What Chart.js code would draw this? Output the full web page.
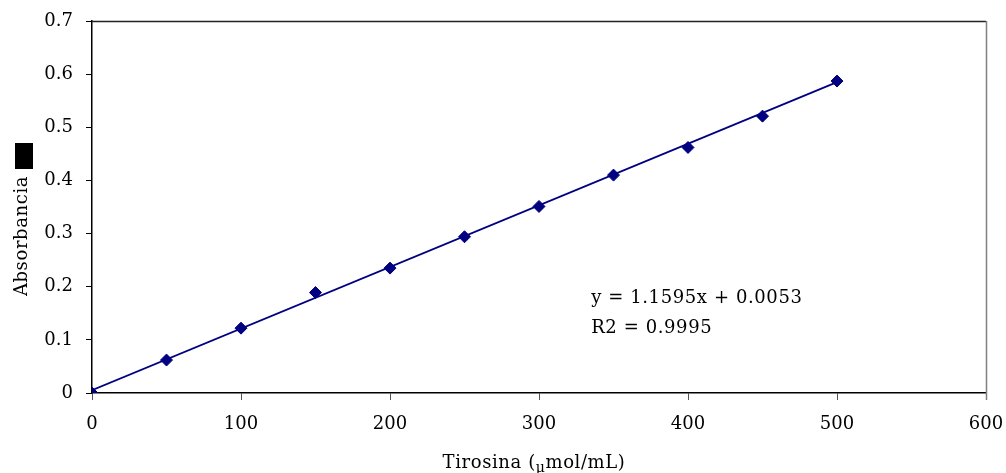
<!DOCTYPE html>
<html>
<head>
<meta charset="utf-8">
<script src="https://cdn.jsdelivr.net/npm/chart.js@4.4.0/dist/chart.umd.min.js"></script>
<style>
  html, body { margin: 0; padding: 0; background: #fff; }
  #wrap { width: 1006px; height: 473px; }
</style>
</head>
<body>
<div id="wrap"><canvas id="chCurva"></canvas></div>
<script>
/* Curva de calibracion de tirosina: absorbancia vs concentracion */
var TIROSINA = [0, 50, 100, 150, 200, 250, 300, 350, 400, 450, 500];
var ABSORBANCIA = [0, 0.062, 0.122, 0.189, 0.235, 0.294, 0.351, 0.410, 0.462, 0.521, 0.587];
var X_TICKS = [0, 100, 200, 300, 400, 500, 600];
var Y_TICKS = [0, 0.1, 0.2, 0.3, 0.4, 0.5, 0.6, 0.7];

// recta de ajuste tal como la reporta la ecuacion (x en mmol/mL)
var PENDIENTE = 1.1595;
var ORDENADA = 0.0053;
var R2 = 0.9995;

var AZUL = '#000080';
var FUENTE = '"DejaVu Serif", "Liberation Serif", serif';

(function () {
  'use strict';

  var puntos = TIROSINA.map(function (x, i) { return { x: x, y: ABSORBANCIA[i] }; });
  var xMin = TIROSINA[0], xMax = TIROSINA[TIROSINA.length - 1];
  var recta = [xMin, xMax].map(function (x) { return { x: x, y: PENDIENTE * x / 1000 + ORDENADA }; });

  // marco superior/derecho, titulos de ejes y ecuacion
  var decoracion = {
    id: 'decoracion',
    afterDraw: function (chart) {
      var ctx = chart.ctx, a = chart.chartArea;
      ctx.save();
      ctx.lineWidth = 1.5;
      ctx.strokeStyle = '#222';
      ctx.beginPath();
      ctx.moveTo(a.left, a.top + 0.5);
      ctx.lineTo(a.right, a.top + 0.5);
      ctx.stroke();
      ctx.strokeStyle = '#808080';
      ctx.beginPath();
      ctx.moveTo(a.right + 0.5, a.top);
      ctx.lineTo(a.right + 0.5, a.bottom + 7);
      ctx.stroke();

      ctx.fillStyle = '#000';
      ctx.font = '18px ' + FUENTE;
      ctx.textBaseline = 'alphabetic';
      ctx.textAlign = 'left';
      ctx.letterSpacing = '0.6px';

      // ecuacion de la recta
      var xs = chart.scales.x;
      var ex = xs.getPixelForValue(335);
      ctx.fillText('y = ' + PENDIENTE + 'x + ' + ORDENADA, ex, 303);
      ctx.fillText('R2 = ' + R2, ex, 333);

      // titulo eje x con mu en subindice
      var t1 = 'Tirosina (', t2 = '\u03bc', t3 = 'mol/mL)';
      var w1 = ctx.measureText(t1).width, w3 = ctx.measureText(t3).width;
      ctx.font = '14px ' + FUENTE;
      var w2 = ctx.measureText(t2).width;
      var x0 = 534 - (w1 + w2 + w3) / 2;
      var by = 468;
      ctx.font = '18px ' + FUENTE;
      ctx.fillText(t1, x0, by);
      ctx.font = '14px ' + FUENTE;
      ctx.fillText(t2, x0 + w1, by + 4);
      ctx.font = '18px ' + FUENTE;
      ctx.fillText(t3, x0 + w1 + w2, by);

      // titulo eje y
      ctx.save();
      ctx.translate(27, 236);
      ctx.rotate(-Math.PI / 2);
      ctx.textAlign = 'center';
      ctx.fillText('Absorbancia', 0, 0);
      ctx.restore();
      ctx.fillRect(15, 143, 18, 26);
      ctx.restore();
    }
  };

  new Chart(document.getElementById('chCurva'), {
    type: 'scatter',
    data: {
      datasets: [
        {
          label: 'Ajuste lineal',
          type: 'line',
          data: recta,
          borderColor: AZUL,
          borderWidth: 1.8,
          pointRadius: 0,
          fill: false,
          order: 2
        },
        {
          label: 'Absorbancia',
          data: puntos,
          pointStyle: 'rectRot',
          pointRadius: 6,
          pointHoverRadius: 6,
          backgroundColor: AZUL,
          borderColor: AZUL,
          borderWidth: 1,
          order: 1
        }
      ]
    },
    options: {
      responsive: true,
      maintainAspectRatio: false,
      animation: false,
      layout: { padding: { top: 21, right: 20, left: 0, bottom: 0 } },
      plugins: { legend: { display: false }, tooltip: { enabled: false } },
      scales: {
        x: {
          type: 'linear',
          min: X_TICKS[0],
          max: X_TICKS[X_TICKS.length - 1],
          afterBuildTicks: function (s) { s.ticks = X_TICKS.map(function (v) { return { value: v }; }); },
          afterFit: function (s) { s.height = 80; s.paddingLeft = 0; s.paddingRight = 0; },
          grid: { drawOnChartArea: false, tickLength: 7, color: '#555', tickWidth: 1 },
          border: { color: '#000', width: 1.5 },
          ticks: { color: '#000', font: { family: FUENTE, size: 18 }, padding: 14, maxRotation: 0 }
        },
        y: {
          min: Y_TICKS[0],
          max: Y_TICKS[Y_TICKS.length - 1],
          afterBuildTicks: function (s) { s.ticks = Y_TICKS.map(function (v) { return { value: v }; }); },
          afterFit: function (s) { s.width = 92; s.paddingTop = 0; s.paddingBottom = 0; },
          grid: { drawOnChartArea: false, tickLength: 6, color: '#000', tickWidth: 1 },
          border: { color: '#000', width: 1.5 },
          ticks: {
            color: '#000',
            font: { family: FUENTE, size: 18 },
            padding: 13,
            callback: function (v) { return v === 0 ? '0' : v.toFixed(1); }
          }
        }
      }
    },
    plugins: [decoracion]
  });
})();
</script>
</body>
</html>
